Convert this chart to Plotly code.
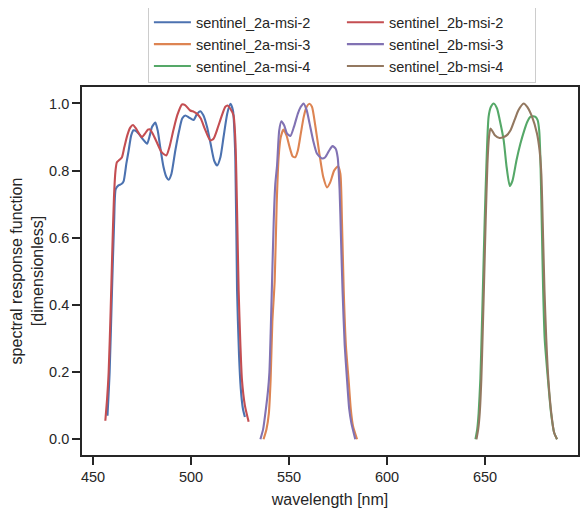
import plotly.graph_objects as go

# spectral response functions, wavelength in nm
wl_2a_msi_2 = [457.4, 458.5, 459.7, 460.8, 461.6, 463.0, 464.5, 465.6, 467.0, 468.2, 469.5, 470.7,
               472.0, 473.3, 475.5, 477.6, 479.0, 480.1, 481.8, 483.0, 484.3, 486.0, 487.5, 488.6,
               490.0, 492.0, 494.0, 495.5, 497.1, 499.0, 501.3, 503.0, 504.7, 506.3, 508.2, 510.0,
               511.8, 513.3, 515.0, 516.6, 518.5, 520.1, 521.4, 522.6, 523.5, 524.5, 525.4, 526.5,
               527.5]
srf_2a_msi_2 = [0.07, 0.2, 0.443, 0.65, 0.745, 0.756, 0.76, 0.768, 0.82, 0.86, 0.905, 0.92,
                0.918, 0.91, 0.893, 0.88, 0.905, 0.93, 0.943, 0.92, 0.87, 0.81, 0.78, 0.773,
                0.79, 0.86, 0.92, 0.955, 0.964, 0.958, 0.951, 0.968, 0.977, 0.965, 0.93, 0.88,
                0.83, 0.815, 0.84, 0.9, 0.97, 0.999, 0.979, 0.84, 0.443, 0.25, 0.15, 0.09,
                0.066]

wl_2a_msi_3 = [537.0, 538.5, 539.7, 540.6, 541.5, 542.7, 543.7, 544.7, 545.8, 547.2, 548.7, 550.3,
               551.8, 553.2, 554.5, 556.0, 557.5, 559.0, 560.4, 561.7, 563.5, 565.5, 567.5, 569.4,
               571.0, 573.0, 575.0, 576.2, 577.0, 577.9, 579.0, 580.4, 581.5, 582.6, 584.7]
srf_2a_msi_3 = [0.0, 0.03, 0.076, 0.176, 0.35, 0.473, 0.7, 0.84, 0.9, 0.922, 0.905, 0.87,
                0.843, 0.84, 0.86, 0.91, 0.96, 0.99, 0.999, 0.99, 0.93, 0.85, 0.78, 0.75,
                0.765, 0.8, 0.813, 0.79, 0.65, 0.443, 0.28, 0.176, 0.09, 0.04, 0.0]

wl_2a_msi_4 = [645.1, 646.0, 646.7, 647.6, 648.3, 649.0, 649.8, 650.7, 651.8, 653.0, 654.4, 656.1,
               657.5, 659.5, 661.0, 662.6, 664.0, 666.0, 668.0, 670.0, 671.5, 673.1, 674.5, 675.7,
               676.8, 677.6, 678.2, 679.0, 679.6, 680.4, 682.1, 683.7, 685.2, 686.7]
srf_2a_msi_4 = [0.0, 0.03, 0.076, 0.18, 0.32, 0.473, 0.65, 0.82, 0.96, 0.99, 1.0, 0.985,
                0.95, 0.89, 0.81, 0.754, 0.77, 0.83, 0.88, 0.92, 0.945, 0.96, 0.962, 0.96,
                0.95, 0.92, 0.84, 0.62, 0.45, 0.3, 0.176, 0.076, 0.02, 0.0]

wl_2b_msi_2 = [456.3, 457.2, 458.0, 459.0, 459.8, 460.7, 461.5, 462.2, 463.5, 464.8, 466.0, 467.5,
               469.0, 470.4, 472.0, 473.5, 475.0, 476.5, 478.0, 478.9, 480.5, 482.5, 485.0, 487.4,
               489.0, 491.0, 493.0, 495.4, 497.0, 499.6, 501.5, 503.1, 505.0, 507.0, 509.8, 511.5,
               513.5, 515.5, 517.5, 518.7, 520.0, 521.7, 522.7, 523.5, 524.3, 525.2, 526.0, 527.5,
               529.4]
srf_2b_msi_2 = [0.055, 0.12, 0.2, 0.38, 0.55, 0.72, 0.8, 0.825, 0.832, 0.84, 0.87, 0.905,
                0.928, 0.936, 0.925, 0.91, 0.9, 0.91, 0.922, 0.923, 0.91, 0.885, 0.855, 0.845,
                0.87, 0.92, 0.965, 0.997, 0.995, 0.979, 0.975, 0.969, 0.955, 0.925, 0.89, 0.895,
                0.925, 0.96, 0.99, 0.994, 0.985, 0.964, 0.88, 0.68, 0.443, 0.28, 0.176, 0.1,
                0.052]

wl_2b_msi_3 = [535.4, 536.8, 537.9, 539.2, 540.0, 540.7, 541.3, 542.2, 543.0, 543.9, 545.0, 546.1,
               547.5, 549.0, 550.7, 552.5, 554.5, 556.0, 557.4, 559.0, 560.5, 562.3, 564.3, 566.8,
               568.5, 570.5, 572.2, 573.8, 574.8, 575.8, 576.5, 577.3, 578.4, 579.6, 580.7, 581.8,
               583.8]
srf_2b_msi_3 = [0.0, 0.03, 0.076, 0.14, 0.2, 0.33, 0.46, 0.65, 0.76, 0.816, 0.92, 0.947,
                0.935, 0.91, 0.903, 0.93, 0.97, 0.99, 1.0, 0.98, 0.94, 0.89, 0.85, 0.836,
                0.84, 0.86, 0.873, 0.865, 0.84, 0.742, 0.6, 0.443, 0.28, 0.176, 0.09, 0.048,
                0.0]

wl_2b_msi_4 = [645.6, 646.5, 647.3, 648.1, 648.8, 649.5, 650.3, 651.2, 652.0, 652.7, 653.5, 655.0,
               657.4, 659.5, 661.0, 663.0, 665.0, 667.0, 669.7, 671.5, 674.0, 676.5, 677.8, 678.7,
               679.6, 680.3, 681.2, 682.3, 683.8, 685.2, 686.7]
srf_2b_msi_4 = [0.0, 0.03, 0.08, 0.18, 0.32, 0.47, 0.65, 0.82, 0.9, 0.925, 0.92, 0.905,
                0.897, 0.9, 0.905, 0.92, 0.95, 0.98, 1.0, 0.99, 0.96, 0.91, 0.86, 0.79,
                0.6, 0.443, 0.3, 0.176, 0.076, 0.02, 0.0]

series = [
    ("sentinel_2a-msi-2", wl_2a_msi_2, srf_2a_msi_2, "#4C72B0", 1),
    ("sentinel_2a-msi-3", wl_2a_msi_3, srf_2a_msi_3, "#DD8452", 3),
    ("sentinel_2a-msi-4", wl_2a_msi_4, srf_2a_msi_4, "#55A868", 5),
    ("sentinel_2b-msi-2", wl_2b_msi_2, srf_2b_msi_2, "#C44E52", 2),
    ("sentinel_2b-msi-3", wl_2b_msi_3, srf_2b_msi_3, "#8172B3", 4),
    ("sentinel_2b-msi-4", wl_2b_msi_4, srf_2b_msi_4, "#937860", 6),
]

ink = "#262626"
font = "Liberation Sans, Arial, sans-serif"

fig = go.Figure()
for name, x, y, color, rank in series:
    fig.add_trace(go.Scatter(
        x=x, y=y, mode="lines", name=name, legendrank=rank,
        line=dict(color=color, width=2.1, shape="spline", smoothing=0.6)
    ))

axis_style = dict(
    showgrid=False, zeroline=False, showline=True, linecolor=ink, linewidth=1.7,
    mirror=True, ticks="outside", ticklen=8, tickwidth=1.5, tickcolor=ink,
    tickfont=dict(family=font, size=14.5, color=ink), automargin=False
)

# the page body adds an 8px offset, so the figure is 8px smaller than the window
fig.update_layout(
    width=580, height=506,
    margin=dict(l=74, r=10, t=79, b=59, autoexpand=False),
    paper_bgcolor="white", plot_bgcolor="white",
    font=dict(family=font, color=ink),
    xaxis=dict(
        range=[444.4, 697.4], dtick=50, tick0=450,
        title=dict(text="wavelength [nm]", font=dict(family=font, size=16, color=ink), standoff=10),
        **axis_style
    ),
    yaxis=dict(
        range=[-0.047, 1.049], dtick=0.2, tick0=0, tickformat=".1f",
        title=dict(text="spectral response function<br>[dimensionless]",
                   font=dict(family=font, size=16, color=ink), standoff=2),
        **axis_style
    ),
    legend=dict(
        orientation="h", x=0.524, xanchor="center", y=1.01, yanchor="bottom",
        entrywidth=141, itemwidth=37, bordercolor="#cccccc", borderwidth=1,
        font=dict(family=font, size=14.5, color=ink), traceorder="normal"
    ),
    showlegend=True,
)

fig.write_html("out.html")
